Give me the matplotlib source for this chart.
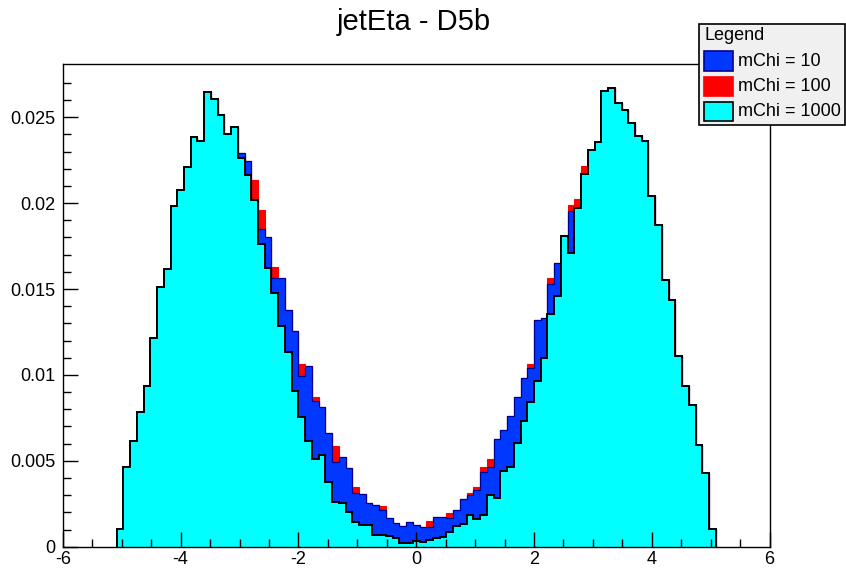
import numpy as np
import matplotlib.pyplot as plt
from matplotlib.patches import Rectangle

plt.rcParams['font.family'] = ['Liberation Sans', 'DejaVu Sans']

# 91 bins on [-5.2, 5.2]; the two outer bins are empty
x_lo, x_hi, n_bins = -5.2, 5.2, 91

# mChi = 1000 (cyan, drawn on top)
h1000 = [0.00101, 0.00466, 0.00618, 0.00787, 0.00936, 0.01214, 0.01511, 0.01616, 0.01982, 0.02075,
         0.02211, 0.02384, 0.02364, 0.02648, 0.02609, 0.02516, 0.02405, 0.02444, 0.02263, 0.02166,
         0.02020, 0.01764, 0.01622, 0.01476, 0.01286, 0.01136, 0.00908, 0.00754, 0.00618, 0.00509,
         0.00534, 0.00379, 0.00262, 0.00253, 0.00204, 0.00146, 0.00126, 0.00126, 0.00068, 0.00068,
         0.00062, 0.00049, 0.00023, 0.00023, 0.00035, 0.00029, 0.00039, 0.00049, 0.00058, 0.00087,
         0.00120, 0.00132, 0.00185, 0.00159, 0.00185, 0.00301, 0.00282, 0.00443, 0.00462, 0.00602,
         0.00729, 0.00845, 0.00962, 0.01098, 0.01356, 0.01457, 0.01807, 0.01710, 0.01972, 0.02170,
         0.02308, 0.02355, 0.02652, 0.02671, 0.02584, 0.02545, 0.02467, 0.02393, 0.02360, 0.02040,
         0.01871, 0.01554, 0.01438, 0.01111, 0.00936, 0.00826, 0.00593, 0.00431, 0.00101]

# mChi = 10 (blue)
h10 = [0.00101, 0.00466, 0.00618, 0.00787, 0.00936, 0.01214, 0.01511, 0.01616, 0.01982, 0.02075,
       0.02211, 0.02384, 0.02364, 0.02648, 0.02609, 0.02516, 0.02405, 0.02444, 0.02289, 0.02248,
       0.02020, 0.01851, 0.01801, 0.01564, 0.01564, 0.01379, 0.01255, 0.00991, 0.01053, 0.00851,
       0.00816, 0.00661, 0.00495, 0.00521, 0.00457, 0.00315, 0.00307, 0.00253, 0.00243, 0.00214,
       0.00165, 0.00136, 0.00120, 0.00146, 0.00126, 0.00117, 0.00117, 0.00171, 0.00171, 0.00165,
       0.00214, 0.00276, 0.00301, 0.00330, 0.00437, 0.00466, 0.00626, 0.00680, 0.00758, 0.00874,
       0.00981, 0.01039, 0.01321, 0.01331, 0.01531, 0.01651, 0.01807, 0.01952, 0.01972, 0.02170,
       0.02308, 0.02355, 0.02652, 0.02671, 0.02584, 0.02545, 0.02467, 0.02393, 0.02360, 0.02040,
       0.01871, 0.01554, 0.01438, 0.01111, 0.00936, 0.00826, 0.00593, 0.00431, 0.00101]

# mChi = 100 (red)
h100 = [0.00101, 0.00466, 0.00618, 0.00787, 0.00936, 0.01214, 0.01511, 0.01616, 0.01982, 0.02075,
        0.02211, 0.02384, 0.02364, 0.02648, 0.02609, 0.02516, 0.02405, 0.02444, 0.02289, 0.02248,
        0.02133, 0.01962, 0.01801, 0.01628, 0.01564, 0.01379, 0.01255, 0.01065, 0.01053, 0.00874,
        0.00816, 0.00661, 0.00587, 0.00521, 0.00457, 0.00350, 0.00307, 0.00253, 0.00243, 0.00237,
        0.00165, 0.00136, 0.00120, 0.00146, 0.00126, 0.00117, 0.00152, 0.00171, 0.00171, 0.00194,
        0.00214, 0.00276, 0.00311, 0.00346, 0.00466, 0.00509, 0.00626, 0.00680, 0.00758, 0.00874,
        0.00981, 0.01065, 0.01321, 0.01331, 0.01564, 0.01651, 0.01816, 0.01991, 0.02024, 0.02215,
        0.02308, 0.02355, 0.02652, 0.02671, 0.02584, 0.02545, 0.02467, 0.02393, 0.02360, 0.02040,
        0.01871, 0.01554, 0.01438, 0.01111, 0.00936, 0.00826, 0.00593, 0.00431, 0.00101]

labels = ['mChi = 10', 'mChi = 100', 'mChi = 1000']
fills = ['#0038ff', '#ff0000', '#00ffff']
lines = ['#000090', '#ff0000', 'black']

W, H = 846, 568
edges = np.linspace(x_lo, x_hi, n_bins + 1)[1:-1]

fig = plt.figure(figsize=(W / 100, H / 100), dpi=100)
ax = fig.add_axes([62.8 / W, 1 - 546.7 / H, (769.6 - 62.8) / W, (546.7 - 64) / H])

# draw order: red behind, blue, cyan on top
ax.stairs(h100, edges, fill=True, facecolor=fills[1], edgecolor=lines[1], linewidth=0.8)
ax.stairs(h10, edges, fill=True, facecolor=fills[0], edgecolor=lines[0], linewidth=0.9)
ax.stairs(h1000, edges, fill=True, facecolor=fills[2], edgecolor=lines[2], linewidth=1.4)

ax.set_xlim(-6, 6)
ax.set_ylim(0, 0.0281)
ax.set_xticks(np.arange(-6, 7, 2))
ax.set_xticks(np.arange(-6, 6.01, 0.5), minor=True)
ax.set_yticks([0, 0.005, 0.01, 0.015, 0.02, 0.025])
ax.set_yticklabels(['0', '0.005', '0.01', '0.015', '0.02', '0.025'])
ax.set_yticks(np.arange(0, 0.028, 0.001), minor=True)
ax.set_xticklabels(['-6', '-4', '-2', '0', '2', '4', '6'])
ax.tick_params(which='both', direction='in', top=False, right=False, labelsize=13, width=1)
ax.tick_params(which='major', length=11)
ax.tick_params(which='minor', length=5.5)
ax.tick_params(axis='x', pad=3)
ax.tick_params(axis='y', pad=5)
for s in ax.spines.values():
    s.set_linewidth(1.0)

fig.text(414 / W, 1 - 22 / H, 'jetEta - D5b', ha='center', va='center', fontsize=21)

# legend box, ROOT style
fig.patches.append(Rectangle((699 / W, 1 - 125 / H), 146 / W, 101 / H, transform=fig.transFigure,
                             facecolor='#f0f0f0', edgecolor='black', linewidth=1.2))
fig.text(704 / W, 1 - 35 / H, 'Legend', ha='left', va='center', fontsize=13)
for i, yc in enumerate([61, 86.5, 111.5]):
    fig.patches.append(Rectangle((704 / W, 1 - (yc + 9.5) / H), 29 / W, 19 / H, transform=fig.transFigure,
                                 facecolor=fills[i], edgecolor=lines[i], linewidth=1.2))
    fig.text(738 / W, 1 - yc / H, labels[i], ha='left', va='center', fontsize=13)

fig.savefig('out.png', dpi=100)
